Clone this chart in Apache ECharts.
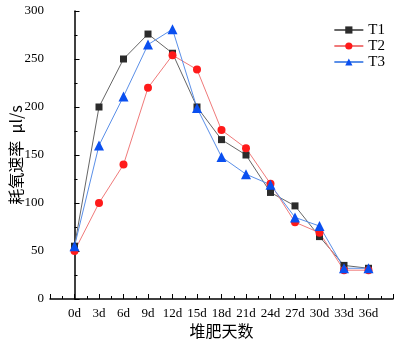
<!DOCTYPE html>
<html><head><meta charset="utf-8">
<script src="https://cdn.jsdelivr.net/npm/echarts@6/dist/echarts.min.js"></script>
<style>html,body{margin:0;padding:0;background:#fff}#c{width:398px;height:344px}</style>
</head><body><div id="c"></div>
<script>
var categories = ['0d','3d','6d','9d','12d','15d','18d','21d','24d','27d','30d','33d','36d'];
var T1 = [55, 200, 250, 276, 256, 200, 166, 150, 111, 97, 65, 35, 32];
var T2 = [50, 100, 140, 220, 254, 239, 176, 157, 120, 80, 69, 30, 30];
var T3 = [55, 160, 211, 265, 281, 199, 148, 130, 119, 85, 76, 32, 32];
var yTicks = [0, 50, 100, 150, 200, 250, 300];

function pairs(arr){ return arr.map(function(v,i){ return [i, v]; }); }
var serif = 'Liberation Serif';
var chart = echarts.init(document.getElementById('c'));
chart.setOption({
  animation: false,
  backgroundColor: '#fff',
  grid: {left: 50, right: 5, top: 11, bottom: 45, containLabel: false, outerBoundsMode: 'none'},
  legend: {
    orient: 'vertical', right: 8, top: 17, itemGap: 0, itemWidth: 29, itemHeight: 9,
    textStyle: {fontFamily: serif, fontSize: 15, lineHeight: 16, color: '#000'},
    data: ['T1','T2','T3']
  },
  xAxis: {
    type: 'value', min: -1, max: 13, interval: 1,
    name: '堆肥天数', nameLocation: 'middle', nameGap: 24, nameMoveOverlap: false,
    nameTextStyle: {fontFamily: 'Noto Sans CJK SC', fontSize: 16, color: '#000'},
    axisLine: {lineStyle: {color: '#000', width: 1.5}},
    axisTick: {inside: true, length: 5, lineStyle: {color: '#000'}},
    minorTick: {show: true, splitNumber: 2, length: 3, lineStyle: {color: '#000'}},
    splitLine: {show: false},
    axisLabel: {fontFamily: serif, fontSize: 13, color: '#000', margin: 8,
      formatter: function(v){ return (v >= 0 && v < categories.length) ? categories[v] : ''; }}
  },
  yAxis: {
    type: 'value', min: yTicks[0], max: yTicks[yTicks.length-1], interval: 50,
    name: '耗氧速率  μl/s', nameLocation: 'middle', nameGap: 26, nameMoveOverlap: false,
    nameTextStyle: {fontFamily: 'Noto Sans CJK SC', fontSize: 16, color: '#000'},
    axisLine: {show: true, lineStyle: {color: '#000', width: 1.5}},
    axisTick: {show: true, inside: true, length: 5, lineStyle: {color: '#000'}},
    minorTick: {show: true, splitNumber: 2, length: 3, lineStyle: {color: '#000'}},
    splitLine: {show: false},
    axisLabel: {fontFamily: serif, fontSize: 13, color: '#000', margin: 6}
  },
  series: [
    {name: 'T1', type: 'line', data: pairs(T1), symbol: 'rect', symbolSize: 7,
     itemStyle: {color: '#2b2b2b'}, lineStyle: {color: '#666', width: 1}},
    {name: 'T2', type: 'line', data: pairs(T2), symbol: 'circle', symbolSize: 8,
     itemStyle: {color: '#ff1a1a'}, lineStyle: {color: '#f07a7a', width: 1}},
    {name: 'T3', type: 'line', data: pairs(T3), symbol: 'triangle', symbolSize: 10,
     itemStyle: {color: '#0a4ff0'}, lineStyle: {color: '#5a8fe8', width: 1}}
  ]
});
</script></body></html>
